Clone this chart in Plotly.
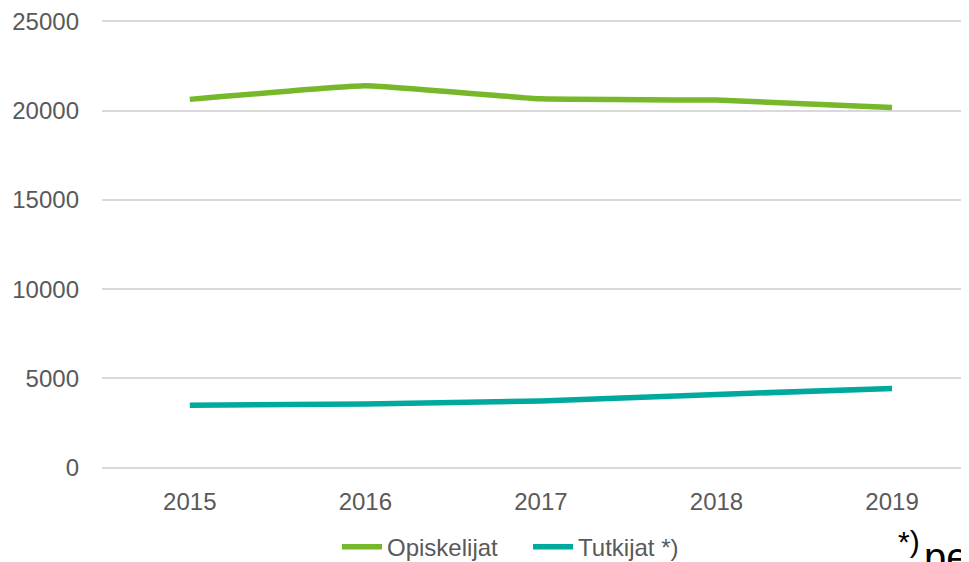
import plotly.graph_objects as go

years = ["2015", "2016", "2017", "2018", "2019"]
opiskelijat = [20630, 21390, 20660, 20590, 20180]
tutkijat = [3500, 3570, 3740, 4100, 4440]
y_ticks = [0, 5000, 10000, 15000, 20000, 25000]
y_ticktext = ["0", "5000", "10000", "15000", "20000", "25000"]

fig = go.Figure()
fig.add_trace(go.Scatter(x=years, y=opiskelijat, mode="lines", name="Opiskelijat",
                         line=dict(color="#77B82A", width=5.5, shape="spline", smoothing=0.3)))
fig.add_trace(go.Scatter(x=years, y=tutkijat, mode="lines", name="Tutkijat *)",
                         line=dict(color="#00A99D", width=5.5, shape="spline", smoothing=0.3)))

fig.update_layout(
    width=969, height=562,
    margin=dict(l=94, r=0, t=5.5, b=95),
    plot_bgcolor="white", paper_bgcolor="white",
    font=dict(family="Liberation Sans, Arial", size=24, color="#595959"),
    showlegend=True,
    legend=dict(orientation="h", x=0.2686, xanchor="left", y=-0.1625, yanchor="middle",
                bgcolor="rgba(0,0,0,0)", entrywidth=136, entrywidthmode="pixels",
                font=dict(size=24, color="#595959"), itemwidth=40, tracegroupgap=0),
    xaxis=dict(type="category", range=[-0.5, 4.484], showgrid=False, zeroline=False,
               showline=False, ticks="", tickfont=dict(size=24, color="#595959"),
               ticklabelstandoff=12),
    yaxis=dict(range=[-300, 25300], tickvals=y_ticks, ticktext=y_ticktext, showgrid=True,
               gridcolor="#D9D9D9", gridwidth=1.5, zeroline=False, showline=False, ticks="",
               tickfont=dict(size=24, color="#595959"), ticklabelstandoff=22,
               ticklabeloverflow="allow"),
    annotations=[
        dict(text="*)", xref="paper", yref="paper", x=0.9086, y=-0.112,
             xanchor="left", yanchor="top", showarrow=False, borderpad=0,
             font=dict(size=30, color="#000000", family="Liberation Sans, Arial")),
        dict(text="pe", xref="paper", yref="paper", x=0.938, y=-0.1335,
             xanchor="left", yanchor="top", showarrow=False, borderpad=0,
             font=dict(size=40, color="#000000", family="Liberation Sans, Arial")),
    ],
)

fig.write_html("out.html")
